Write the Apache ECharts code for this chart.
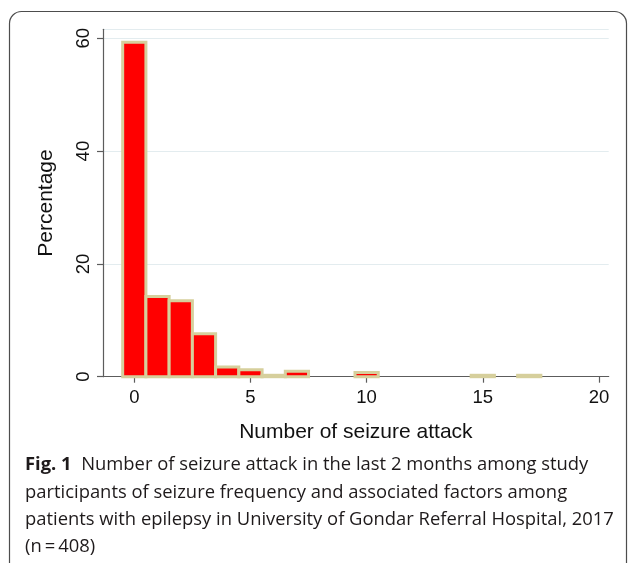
<!DOCTYPE html>
<html>
<head>
<meta charset="utf-8">
<script src="https://cdn.jsdelivr.net/npm/echarts@6/dist/echarts.min.js"></script>
<style>
html,body{margin:0;padding:0;background:#fff;}
#chart{width:629px;height:563px;}
</style>
</head>
<body>
<div id="chart"></div>
<script>
// Data (percentage of 408 patients per number of attacks)
const attacks = [0, 1, 2, 3, 4, 5, 6, 7, 10, 15, 17];
const percentage = [59.31, 14.22, 13.48, 7.60, 1.72, 1.23, 0.25, 0.98, 0.74, 0.25, 0.25];
const xTicks = [0, 5, 10, 15, 20];
const yTickStep = 20;
const xTitle = 'Number of seizure attack';
const yTitle = 'Percentage';
const captionLines = [
  '{b|Fig. 1}  Number of seizure attack in the last 2 months among study',
  'participants of seizure frequency and associated factors among',
  'patients with epilepsy in University of Gondar Referral Hospital, 2017',
  '(n\u2009=\u2009408)'
];

const chart = echarts.init(document.getElementById('chart'), null, {renderer: 'canvas'});
const axisColor = '#5c5c5c';
const fontChart = '"Liberation Sans", Arial, sans-serif';
const fontCaption = '"Open Sans", "Noto Sans", sans-serif';

const seriesData = attacks.map((a, i) => [a, percentage[i]]);

const captionGraphics = captionLines.map((t, i) => ({
  type: 'text',
  left: 25,
  top: 456 + i * 27.3,
  style: {
    text: t,
    font: '18.4px ' + fontCaption,
    fill: '#1e1a1b',
    rich: {
      b: {fontWeight: 'bold', fontFamily: fontCaption, fontSize: 18.4, fill: '#1e1a1b'}
    }
  }
}));

chart.setOption({
  animation: false,
  backgroundColor: '#fff',
  grid: {left: 103, right: 20.3, top: 29.3, bottom: 186.3, containLabel: false},
  xAxis: {
    type: 'value',
    min: -1.347,
    max: 20.42,
    name: xTitle,
    nameLocation: 'middle',
    nameGap: 45,
    nameTextStyle: {fontFamily: fontChart, fontSize: 21, color: '#111'},
    axisLine: {show: true, onZero: false, lineStyle: {color: axisColor, width: 1.2}},
    axisTick: {show: true, length: 6, lineStyle: {color: axisColor, width: 1.2}, customValues: xTicks},
    axisLabel: {fontFamily: fontChart, fontSize: 18.5, color: '#111', margin: 12, customValues: xTicks},
    splitLine: {show: false}
  },
  yAxis: {
    type: 'value',
    min: 0,
    max: 61.6,
    interval: yTickStep,
    name: yTitle,
    nameLocation: 'middle',
    nameGap: 46,
    nameRotate: 90,
    nameTextStyle: {fontFamily: fontChart, fontSize: 21, color: '#111'},
    axisLine: {show: true, onZero: false, lineStyle: {color: axisColor, width: 1.2}},
    axisTick: {show: true, length: 6, lineStyle: {color: axisColor, width: 1.2}},
    axisLabel: {fontFamily: fontChart, fontSize: 18.5, color: '#111', margin: 10, rotate: 90, showMaxLabel: false},
    splitLine: {show: true, lineStyle: {color: '#e3ecef', width: 1.2}}
  },
  series: [{
    type: 'custom',
    data: seriesData,
    renderItem: function (params, api) {
      const x = api.value(0);
      const v = api.value(1);
      const p0 = api.coord([x - 0.5, v]);
      const p1 = api.coord([x + 0.5, 0]);
      return {
        type: 'rect',
        shape: {x: p0[0], y: p0[1], width: p1[0] - p0[0], height: p1[1] - p0[1]},
        style: {fill: '#ff0000', stroke: '#d6cf9c', lineWidth: 3}
      };
    },
    z: 3
  }],
  graphic: [
    {
      type: 'rect',
      shape: {x: 9.5, y: 11.5, width: 617, height: 570, r: 12},
      style: {fill: 'none', stroke: '#4d4d4d', lineWidth: 1.2},
      z: -1
    }
  ].concat(captionGraphics)
});
</script>
</body>
</html>
